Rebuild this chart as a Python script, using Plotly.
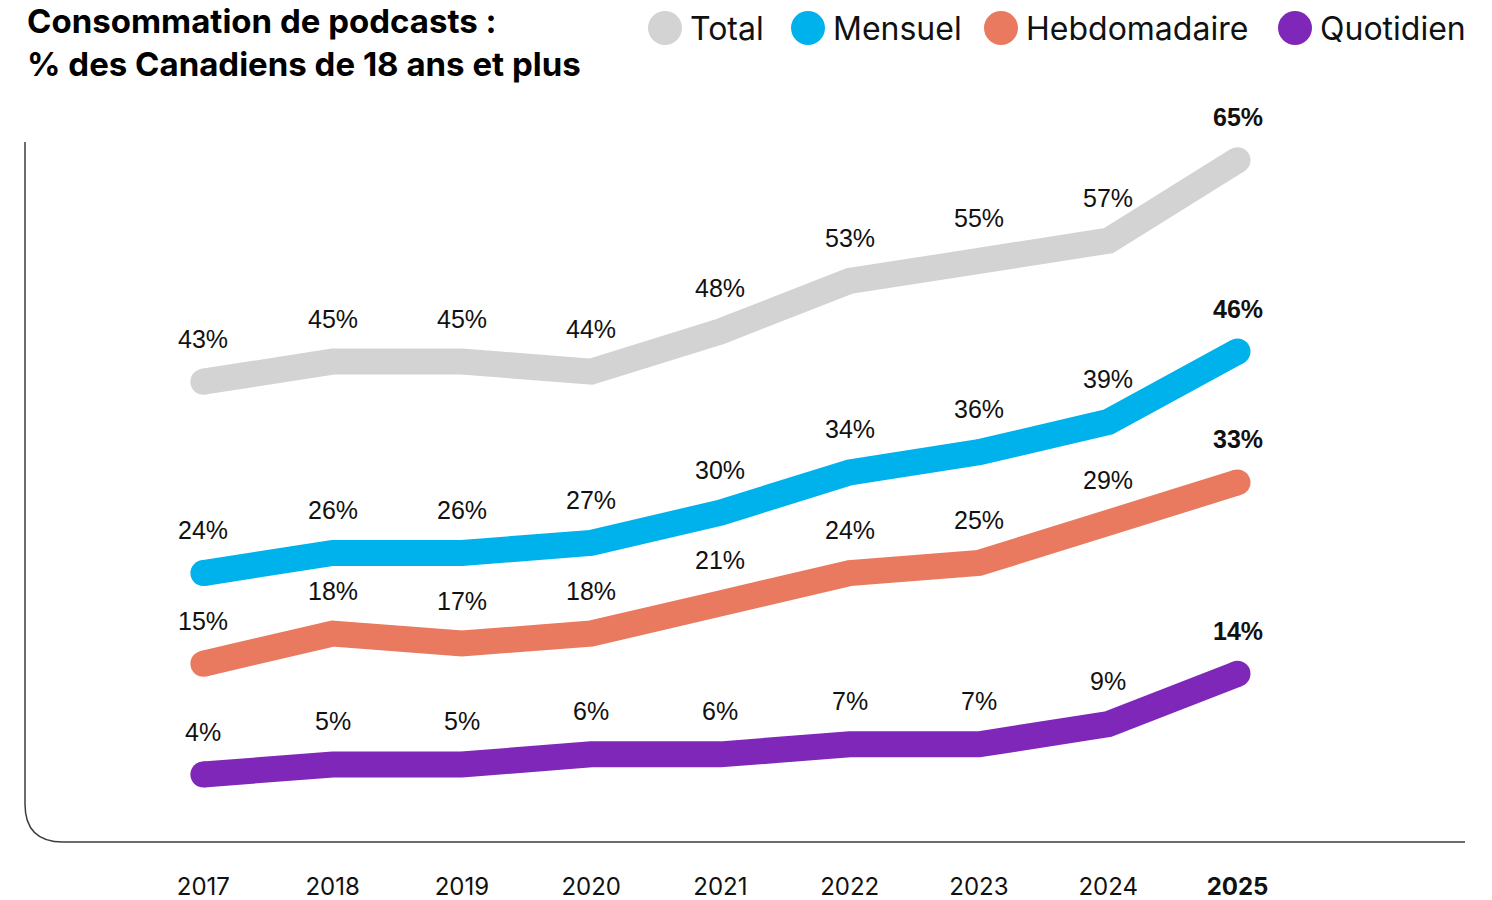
import plotly.graph_objects as go

# données
annees = [2017, 2018, 2019, 2020, 2021, 2022, 2023, 2024, 2025]
total = [43, 45, 45, 44, 48, 53, 55, 57, 65]
mensuel = [24, 26, 26, 27, 30, 34, 36, 39, 46]
hebdo = [15, 18, 17, 18, 21, 24, 25, 29, 33]
quotidien = [4, 5, 5, 6, 6, 7, 7, 9, 14]

noms = ["Total", "Mensuel", "Hebdomadaire", "Quotidien"]
series = [total, mensuel, hebdo, quotidien]
couleurs = ["#D3D3D3", "#00B2EC", "#E97A5F", "#7F27B9"]

LARG = 26  # épaisseur des lignes
fig = go.Figure()

for nom, vals, coul in zip(noms, series, couleurs):
    tailles = [LARG] + [0] * (len(vals) - 2) + [LARG]  # bouts arrondis
    fig.add_trace(go.Scatter(
        x=annees, y=vals, mode="lines+markers", name=nom,
        line=dict(color=coul, width=LARG),
        marker=dict(size=tailles, color=coul, opacity=1, line=dict(width=0)),
        showlegend=False, hoverinfo="skip", cliponaxis=False,
    ))

annots = []
for vals in series:
    for a, v in zip(annees, vals):
        txt = f"<b>{v}%</b>" if a == annees[-1] else f"{v}%"
        annots.append(dict(
            x=a, y=v, xref="x", yref="y", text=txt, showarrow=False,
            yshift=43, font=dict(family="Liberation Sans, Arial", size=25, color="#111"),
        ))

# titre
annots.append(dict(
    x=0, y=1.0, xref="paper", yref="paper", yanchor="bottom", xanchor="left",
    text="<b>Consommation de podcasts :<br>% des Canadiens de 18 ans et plus</b>",
    align="left", showarrow=False, yshift=56,
    font=dict(family="Inter, Lato, sans-serif", size=33, color="#000"),
))

# légende maison (gros ronds)
leg_x = [665, 808, 1001, 1295]
formes = []
for nom, coul, px_ in zip(noms, couleurs, leg_x):
    xp = (px_ - 25) / 1440
    formes.append(dict(
        type="circle", xref="paper", yref="paper", xsizemode="pixel", ysizemode="pixel",
        xanchor=xp, yanchor=1 + 114 / 700, x0=-17, x1=17, y0=-17, y1=17,
        fillcolor=coul, line=dict(width=0),
    ))
    annots.append(dict(
        x=xp, y=1 + 114 / 700, xref="paper", yref="paper", xanchor="left", yanchor="middle",
        xshift=23, text=nom, showarrow=False,
        font=dict(family="Inter, Lato, sans-serif", size=32, color="#111"),
    ))

# axe avec coin arrondi
rx, ry = 38 / 1440, 38 / 700
formes.append(dict(
    type="path", xref="paper", yref="paper",
    path=f"M 0,1 L 0,{ry} Q 0,0 {rx},0 L 1,0",
    line=dict(color="#3C3C46", width=1.5),
))

fig.update_layout(
    width=1492, height=900,
    margin=dict(l=25, r=27, t=142, b=58),
    paper_bgcolor="white", plot_bgcolor="white",
    shapes=formes, annotations=annots,
    xaxis=dict(
        range=[2015.62, 2026.76], tickvals=annees,
        ticktext=[str(a) if a != 2025 else "<b>2025</b>" for a in annees],
        showgrid=False, zeroline=False, showline=False, ticks="",
        ticklabelstandoff=28, automargin=False,
        tickfont=dict(family="Inter, Lato, sans-serif", size=24, color="#111"),
    ),
    yaxis=dict(range=[-2.7, 66.8], visible=False, showgrid=False, zeroline=False),
    showlegend=False,
)

fig.write_html("out.html", config={"displayModeBar": False},
               post_script="document.body.style.margin='0';")
